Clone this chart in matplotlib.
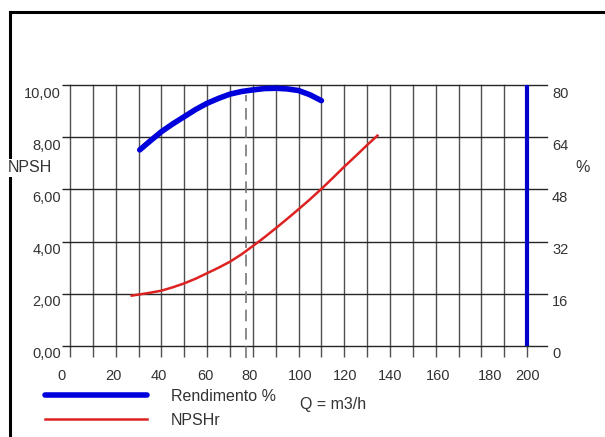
import numpy as np
import matplotlib.pyplot as plt
from matplotlib.lines import Line2D
from matplotlib.transforms import ScaledTranslation

plt.rcParams['font.family'] = ['Liberation Sans', 'DejaVu Sans']

# Curva NPSHr (m) en funcion del caudal Q (m3/h)
q_npsh = [27, 30, 35, 40, 45, 50, 55, 60, 65, 70, 75, 80, 85, 90, 95, 100,
          105, 110, 115, 120, 125, 130, 134.5]
npshr = [1.93, 1.97, 2.04, 2.12, 2.25, 2.40, 2.58, 2.79, 3.00, 3.23, 3.51,
         3.83, 4.16, 4.51, 4.87, 5.24, 5.62, 6.02, 6.44, 6.87, 7.28, 7.70, 8.06]

# Curva de rendimiento (%)
q_rend = [30.5, 35, 40, 45, 50, 55, 60, 65, 70, 75, 80, 85, 90, 95, 100,
          105, 110]
rendimento = [60.1, 62.8, 65.7, 68.1, 70.3, 72.5, 74.4, 75.9, 77.2, 78.0,
              78.5, 78.9, 79.0, 78.8, 78.3, 77.0, 75.2]

q_punto = 77       # punto de trabajo (linea discontinua)
npsh_punto = 9.6
q_max = 200

q_ticks = list(range(0, 201, 10))
q_labels = [str(q) if q % 20 == 0 else '' for q in q_ticks]
npsh_ticks = [0, 2, 4, 6, 8, 10]
npsh_labels = ['0,00', '2,00', '4,00', '6,00', '8,00', '10,00']
rend_ticks = [0, 16, 32, 48, 64, 80]

# desplazamiento (px) de las etiquetas del eje x, como en el original
dx_labels = {0: -8, 20: -2.5, 40: -3, 60: -2, 80: -3, 100: 1.5, 120: 1,
             140: 0, 160: 2.5, 180: 9, 200: 0}

text_color = '#333333'
fs = 10.5
fs_leg = 11.5

fig = plt.figure(figsize=(6.05, 4.37), dpi=100)
W, H = 605, 437
ax = fig.add_axes([70 / W, 1 - 346 / H, 477 / W, 261 / H])
ax2 = ax.twinx()

ax.set_xlim(0, 208.7)
ax.set_ylim(0, 10)
ax2.set_ylim(0, 80)

for a in (ax, ax2):
    for s in a.spines.values():
        s.set_visible(False)

ax.set_xticks(q_ticks)
ax.set_xticklabels(q_labels)
ax.set_yticks(npsh_ticks)
ax.set_yticklabels(npsh_labels)
ax2.set_yticks(rend_ticks)
ax2.set_yticklabels([str(r) for r in rend_ticks])

ax.xaxis.grid(True, color='#505050', lw=1.0)
ax.yaxis.grid(True, color='#262626', lw=1.0)
for gl in ax.get_xgridlines() + ax.get_ygridlines():
    gl.set_clip_on(False)

ax.tick_params(axis='x', length=8, width=1.0, color='#505050', pad=8.5,
               labelsize=fs, labelcolor=text_color)
ax.tick_params(axis='y', length=6, width=1.0, color='#262626', pad=0.5,
               labelsize=fs, labelcolor=text_color)
ax2.tick_params(axis='y', length=0, pad=3.6, labelsize=fs, labelcolor=text_color)

# desplazar etiquetas
down = ScaledTranslation(0, -7 / 100, fig.dpi_scale_trans)
for lab in ax.get_yticklabels() + ax2.get_yticklabels():
    lab.set_transform(lab.get_transform() + down)
for q, lab in zip(q_ticks, ax.get_xticklabels()):
    if q in dx_labels:
        lab.set_transform(lab.get_transform() +
                          ScaledTranslation(dx_labels[q] / 100, 0, fig.dpi_scale_trans))

# curvas
l_npsh, = ax.plot(q_npsh, npshr, color='#dd2222', lw=1.8, label='NPSHr', zorder=4)
ax.plot([q_punto, q_punto], [-0.45, npsh_punto], color='#777777', lw=1.2,
        dashes=(7, 4), clip_on=False, zorder=3)
l_rend, = ax2.plot(q_rend, rendimento, color='#0000dd', lw=4.0,
                   solid_capstyle='round', solid_joinstyle='round',
                   label='Rendimento %', zorder=4)
ax2.axvline(q_max, color='#0000cc', lw=3.0, zorder=4)

# leyenda y textos
fig.legend(handles=[l_rend, l_npsh], loc='upper left',
           bbox_to_anchor=(45 / W, 1 - 389 / H), frameon=False,
           borderpad=0, borderaxespad=0, handlelength=6.4, handletextpad=1.5,
           labelspacing=0.55, fontsize=fs_leg, labelcolor=text_color)
fig.text(300 / W, 1 - 405 / H, 'Q = m3/h', fontsize=fs_leg, color=text_color,
         va='center', ha='left')
fig.text(30 / W, 1 - 168 / H, 'NPSH', fontsize=fs_leg, color=text_color,
         ha='center', va='center', zorder=5,
         bbox=dict(facecolor='white', edgecolor='none', pad=1))
fig.text(583 / W, 1 - 168 / H, '%', fontsize=fs_leg, color=text_color,
         ha='center', va='center')

# marco de la ventana
fig.add_artist(Line2D([10 / W, 1.0], [1 - 11.7 / H, 1 - 11.7 / H],
                      transform=fig.transFigure, color='black', lw=2.2,
                      solid_capstyle='projecting', zorder=1))
fig.add_artist(Line2D([10 / W, 10 / W], [0.0, 1 - 11.7 / H],
                      transform=fig.transFigure, color='black', lw=2.2,
                      solid_capstyle='projecting', zorder=1))

fig.savefig('out.png', dpi=100)
